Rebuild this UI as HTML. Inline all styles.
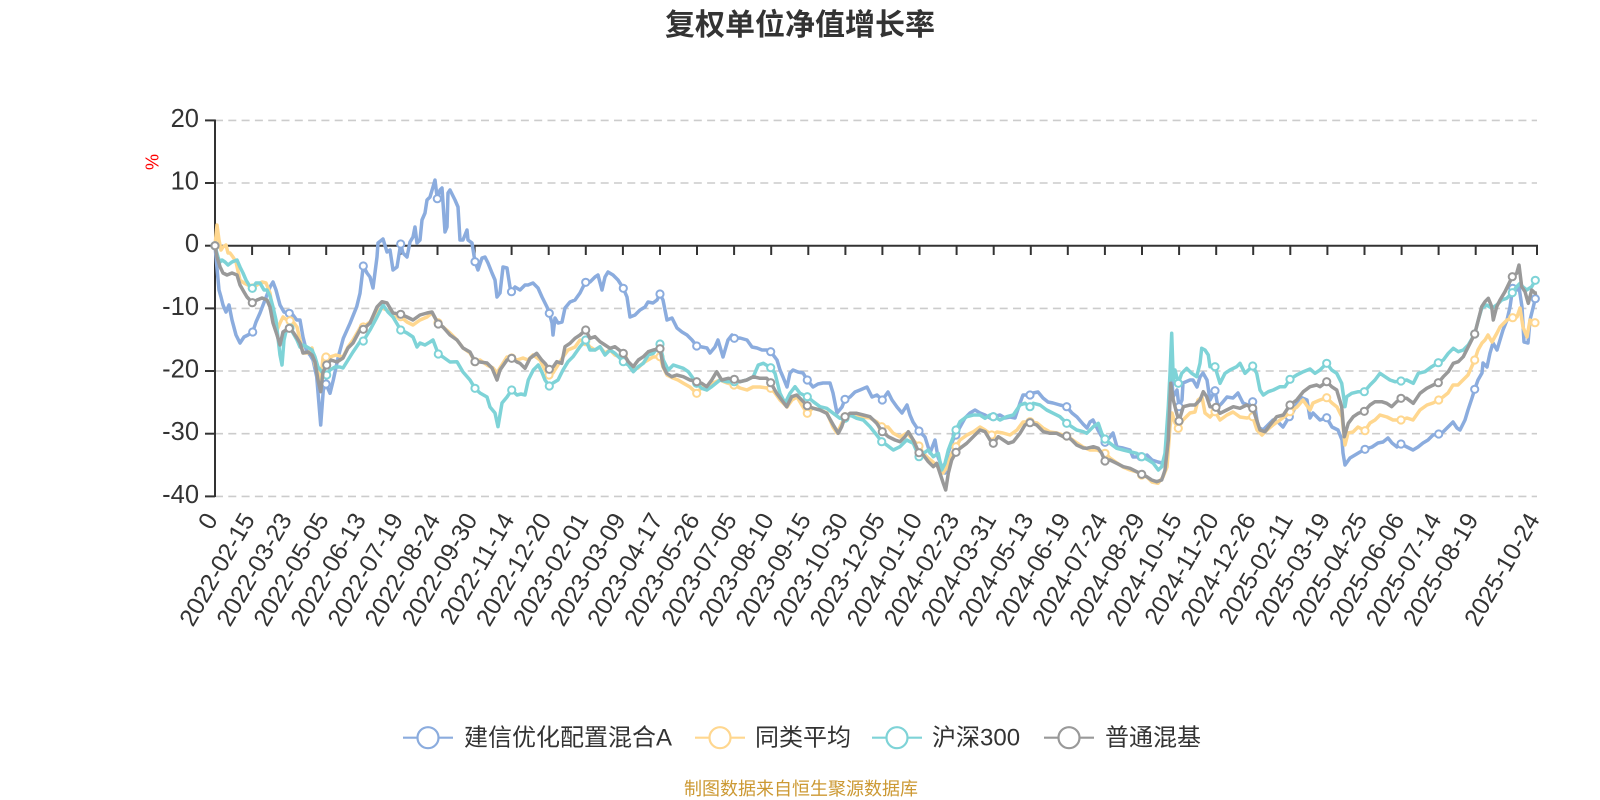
<!DOCTYPE html>
<html>
<head>
<meta charset="utf-8">
<style>
html,body{margin:0;padding:0;background:#fff;}
svg{display:block;}
text{font-family:"Liberation Sans","Noto Sans CJK SC",sans-serif;}
</style>
</head>
<body>
<svg width="1600" height="800" viewBox="0 0 1600 800" xmlns="http://www.w3.org/2000/svg">
<rect width="1600" height="800" fill="#fff"/>
<!-- title -->
<text x="800" y="35" text-anchor="middle" font-size="30" font-weight="bold" fill="#333">复权单位净值增长率</text>
<!-- % -->
<text x="152" y="162" text-anchor="middle" dy="0.35em" font-size="18" fill="#ff0000" transform="rotate(-90 152 162)">%</text>
<!-- grid lines -->
<g stroke="#cccccc" stroke-width="1.6" stroke-dasharray="8 5.3" fill="none">
<line x1="215" y1="120.4" x2="1537" y2="120.4"/>
<line x1="215" y1="183" x2="1537" y2="183"/>
<line x1="215" y1="308.4" x2="1537" y2="308.4"/>
<line x1="215" y1="371" x2="1537" y2="371"/>
<line x1="215" y1="433.7" x2="1537" y2="433.7"/>
<line x1="215" y1="496.4" x2="1537" y2="496.4"/>
</g>
<!-- y axis -->
<g stroke="#333" stroke-width="2">
<line x1="215" y1="119.5" x2="215" y2="497"/>
<line x1="205" y1="120.4" x2="215" y2="120.4"/>
<line x1="205" y1="183" x2="215" y2="183"/>
<line x1="205" y1="245.7" x2="215" y2="245.7"/>
<line x1="205" y1="308.4" x2="215" y2="308.4"/>
<line x1="205" y1="371" x2="215" y2="371"/>
<line x1="205" y1="433.7" x2="215" y2="433.7"/>
<line x1="205" y1="496.4" x2="215" y2="496.4"/>
</g>
<g font-size="25.5" fill="#333" text-anchor="end">
<text x="199" y="126.9">20</text>
<text x="199" y="189.5">10</text>
<text x="199" y="252.2">0</text>
<text x="199" y="314.9">-10</text>
<text x="199" y="377.5">-20</text>
<text x="199" y="440.2">-30</text>
<text x="199" y="502.9">-40</text>
</g>
<!-- x axis -->
<g stroke="#333" stroke-width="2">
<line x1="214" y1="245.7" x2="1538" y2="245.7"/>
<line x1="215" y1="245.7" x2="215" y2="255"/>
<line x1="252.1" y1="245.7" x2="252.1" y2="255"/>
<line x1="289.2" y1="245.7" x2="289.2" y2="255"/>
<line x1="326.2" y1="245.7" x2="326.2" y2="255"/>
<line x1="363.3" y1="245.7" x2="363.3" y2="255"/>
<line x1="400.4" y1="245.7" x2="400.4" y2="255"/>
<line x1="437.5" y1="245.7" x2="437.5" y2="255"/>
<line x1="474.6" y1="245.7" x2="474.6" y2="255"/>
<line x1="511.6" y1="245.7" x2="511.6" y2="255"/>
<line x1="548.7" y1="245.7" x2="548.7" y2="255"/>
<line x1="585.8" y1="245.7" x2="585.8" y2="255"/>
<line x1="622.9" y1="245.7" x2="622.9" y2="255"/>
<line x1="660" y1="245.7" x2="660" y2="255"/>
<line x1="697" y1="245.7" x2="697" y2="255"/>
<line x1="734.1" y1="245.7" x2="734.1" y2="255"/>
<line x1="771.2" y1="245.7" x2="771.2" y2="255"/>
<line x1="808.3" y1="245.7" x2="808.3" y2="255"/>
<line x1="845.4" y1="245.7" x2="845.4" y2="255"/>
<line x1="882.4" y1="245.7" x2="882.4" y2="255"/>
<line x1="919.5" y1="245.7" x2="919.5" y2="255"/>
<line x1="956.6" y1="245.7" x2="956.6" y2="255"/>
<line x1="993.7" y1="245.7" x2="993.7" y2="255"/>
<line x1="1030.8" y1="245.7" x2="1030.8" y2="255"/>
<line x1="1067.8" y1="245.7" x2="1067.8" y2="255"/>
<line x1="1104.9" y1="245.7" x2="1104.9" y2="255"/>
<line x1="1142" y1="245.7" x2="1142" y2="255"/>
<line x1="1179.1" y1="245.7" x2="1179.1" y2="255"/>
<line x1="1216.2" y1="245.7" x2="1216.2" y2="255"/>
<line x1="1253.2" y1="245.7" x2="1253.2" y2="255"/>
<line x1="1290.3" y1="245.7" x2="1290.3" y2="255"/>
<line x1="1327.4" y1="245.7" x2="1327.4" y2="255"/>
<line x1="1364.5" y1="245.7" x2="1364.5" y2="255"/>
<line x1="1401.6" y1="245.7" x2="1401.6" y2="255"/>
<line x1="1438.6" y1="245.7" x2="1438.6" y2="255"/>
<line x1="1475.7" y1="245.7" x2="1475.7" y2="255"/>
<line x1="1512.8" y1="245.7" x2="1512.8" y2="255"/>
<line x1="1537" y1="245.7" x2="1537" y2="255"/>
</g>
<g font-size="24.5" fill="#333" text-anchor="end">
<text x="211" y="515" dy="0.35em" transform="rotate(-60 211 515)">0</text>
<text x="248.1" y="515" dy="0.35em" transform="rotate(-60 248.1 515)">2022-02-15</text>
<text x="285.2" y="515" dy="0.35em" transform="rotate(-60 285.2 515)">2022-03-23</text>
<text x="322.2" y="515" dy="0.35em" transform="rotate(-60 322.2 515)">2022-05-05</text>
<text x="359.3" y="515" dy="0.35em" transform="rotate(-60 359.3 515)">2022-06-13</text>
<text x="396.4" y="515" dy="0.35em" transform="rotate(-60 396.4 515)">2022-07-19</text>
<text x="433.5" y="515" dy="0.35em" transform="rotate(-60 433.5 515)">2022-08-24</text>
<text x="470.6" y="515" dy="0.35em" transform="rotate(-60 470.6 515)">2022-09-30</text>
<text x="507.6" y="515" dy="0.35em" transform="rotate(-60 507.6 515)">2022-11-14</text>
<text x="544.7" y="515" dy="0.35em" transform="rotate(-60 544.7 515)">2022-12-20</text>
<text x="581.8" y="515" dy="0.35em" transform="rotate(-60 581.8 515)">2023-02-01</text>
<text x="618.9" y="515" dy="0.35em" transform="rotate(-60 618.9 515)">2023-03-09</text>
<text x="656" y="515" dy="0.35em" transform="rotate(-60 656 515)">2023-04-17</text>
<text x="693" y="515" dy="0.35em" transform="rotate(-60 693 515)">2023-05-26</text>
<text x="730.1" y="515" dy="0.35em" transform="rotate(-60 730.1 515)">2023-07-05</text>
<text x="767.2" y="515" dy="0.35em" transform="rotate(-60 767.2 515)">2023-08-10</text>
<text x="804.3" y="515" dy="0.35em" transform="rotate(-60 804.3 515)">2023-09-15</text>
<text x="841.4" y="515" dy="0.35em" transform="rotate(-60 841.4 515)">2023-10-30</text>
<text x="878.4" y="515" dy="0.35em" transform="rotate(-60 878.4 515)">2023-12-05</text>
<text x="915.5" y="515" dy="0.35em" transform="rotate(-60 915.5 515)">2024-01-10</text>
<text x="952.6" y="515" dy="0.35em" transform="rotate(-60 952.6 515)">2024-02-23</text>
<text x="989.7" y="515" dy="0.35em" transform="rotate(-60 989.7 515)">2024-03-31</text>
<text x="1026.8" y="515" dy="0.35em" transform="rotate(-60 1026.8 515)">2024-05-13</text>
<text x="1063.8" y="515" dy="0.35em" transform="rotate(-60 1063.8 515)">2024-06-19</text>
<text x="1100.9" y="515" dy="0.35em" transform="rotate(-60 1100.9 515)">2024-07-24</text>
<text x="1138" y="515" dy="0.35em" transform="rotate(-60 1138 515)">2024-08-29</text>
<text x="1175.1" y="515" dy="0.35em" transform="rotate(-60 1175.1 515)">2024-10-15</text>
<text x="1212.2" y="515" dy="0.35em" transform="rotate(-60 1212.2 515)">2024-11-20</text>
<text x="1249.2" y="515" dy="0.35em" transform="rotate(-60 1249.2 515)">2024-12-26</text>
<text x="1286.3" y="515" dy="0.35em" transform="rotate(-60 1286.3 515)">2025-02-11</text>
<text x="1323.4" y="515" dy="0.35em" transform="rotate(-60 1323.4 515)">2025-03-19</text>
<text x="1360.5" y="515" dy="0.35em" transform="rotate(-60 1360.5 515)">2025-04-25</text>
<text x="1397.6" y="515" dy="0.35em" transform="rotate(-60 1397.6 515)">2025-06-06</text>
<text x="1434.6" y="515" dy="0.35em" transform="rotate(-60 1434.6 515)">2025-07-14</text>
<text x="1471.7" y="515" dy="0.35em" transform="rotate(-60 1471.7 515)">2025-08-19</text>
<text x="1533" y="515" dy="0.35em" transform="rotate(-60 1533 515)">2025-10-24</text>
</g>

<!-- BLUE series -->
<polyline fill="none" stroke="#8BACDE" stroke-width="3.5" stroke-linejoin="round" points="215,245.7 217,268 219,290 221,297 223,305 226,312 229,305 232,320 236,335 240,343 244,337 248,335 252.7,332 256,322 260,313 265,300 270,287 273,282 276,290 280,305 284,312 289.3,313.3 293,315 296.7,320 300,320 303,337 306.7,351.7 310,355 313,360 316.7,376.7 320.7,425 323.3,390 326,384 330,393.3 333.3,380 338.3,356.7 343.3,338.3 350,323.3 356.7,306.7 360,293.3 363.3,266 367,273 370,277 373,288 377,257 378,243 383,239 387,252 390,250 393,270 397,267 400.7,244 403,253 407,257 410,242 413,237 415,227 417,243 420,240 422,220 425,213 427,200 430,197 433,187 435,180 437.3,198.7 440,190 442,188 445,232 447,227 448,193 450,190 455,200 458,207 460,240 463,240 467,230 468,240 472,243 475,261.7 478,270 482,258 485,257 488,263 492,273 495,280 497,297 500,293 503,267 507,268 510,287 511.5,291.7 515,287 520,290 525,285 528,285 533,283 538,288 542,297 547,307 549.3,313.3 552,323 553,335 555,318 558,323 562,322 565,308 570,302 575,300 580,293 583,287 585.7,282.3 590,282 595,277 598,275 602,290 605,277 608,272 613,275 618,280 623.3,288.3 627,297 630,317 635,315 640,310 645,307 648,302 653,303 657,300 660,294 663,300 667,320 672,318 677,328 682,332 687,335 692,340 696.7,346 702,347 707,348 710,353 715,347 718,340 723,357 728,340 732,335 734.3,338.3 740,338 747,340 752,347 757,348 762,350 767,350 770.7,351.7 777,360 780,370 783,377 787,387 790,373 793,370 798,372 803,373 807.3,380 813,387 818,384 823,383 830,383 833,393 837,413 842,407 845,399.3 850,397 855,392 860,390 867,387 872,397 877,395 882.3,400 888,392 892,400 897,407 902,413 907,405 910,415 913,422 919,431 925,437 930,453 935,440 938,457 942,467 945,473 948,453 953,440 956,435 960,427 965,418 970,413 975,410 980,413 985,415 990,418 993.3,416.7 1000,415 1005,418 1010,417 1015,418 1020,403 1023,395 1030,395 1033,393 1038,392 1043,398 1048,402 1053,403 1060,405 1066.7,406.7 1072,413 1077,417 1083,424 1087,428 1090,422 1093,420 1098,430 1105,442.3 1110,437 1113,433 1117,447 1123,448 1130,450 1133,457 1141,456.7 1147,455 1152,460 1158,462 1162,463 1165,458 1168,440 1170,400 1172,380 1173,397 1177,390 1179,406.7 1182,400 1183,383 1190,380 1193,380 1197,387 1200,377 1203,373 1207,380 1210,400 1215,390.7 1218,407 1222,403 1227,397 1233,398 1238,393 1243,403 1248,405 1252.7,401.7 1255,407 1258,427 1263,430 1268,425 1273,420 1278,422 1283,427 1289.3,416.7 1293,412 1300,397 1307,400 1310,418 1313,413 1320,420 1326.7,417.7 1332,427 1338,430 1342,440 1343,453 1345,465 1350,458 1355,455 1360,452 1365,449.3 1372,447 1378,443 1383,442 1388,438 1392,443 1397,447 1401,444 1407,447 1413,450 1418,447 1423,443 1428,440 1433,435 1438.7,434 1443,432 1448,427 1453,422 1457,428 1460,430 1465,420 1468,410 1472,398 1474.7,389.3 1478,380 1482,373 1483,363 1487,367 1490,353 1493,343 1497,350 1500,340 1503,330 1507,320 1510,307 1512.7,288.3 1517,290 1519,287 1522,307 1524,342 1528,343 1530,320 1533,308 1535.3,298.7 1537,298"/>
<g fill="#fff" stroke="#8BACDE" stroke-width="2">
<circle cx="215" cy="245.7" r="3.6"/><circle cx="252.7" cy="332" r="3.6"/><circle cx="289.3" cy="313.3" r="3.6"/><circle cx="326" cy="384" r="3.6"/><circle cx="363.3" cy="266" r="3.6"/><circle cx="400.7" cy="244" r="3.6"/><circle cx="437.3" cy="198.7" r="3.6"/><circle cx="475" cy="261.7" r="3.6"/><circle cx="511.5" cy="291.7" r="3.6"/><circle cx="549.3" cy="313.3" r="3.6"/><circle cx="585.7" cy="282.3" r="3.6"/><circle cx="623.3" cy="288.3" r="3.6"/><circle cx="660" cy="294" r="3.6"/><circle cx="696.7" cy="346" r="3.6"/><circle cx="734.3" cy="338.3" r="3.6"/><circle cx="770.7" cy="351.7" r="3.6"/><circle cx="807.3" cy="380" r="3.6"/><circle cx="845" cy="399.3" r="3.6"/><circle cx="882.3" cy="400" r="3.6"/><circle cx="919" cy="431" r="3.6"/><circle cx="956" cy="435" r="3.6"/><circle cx="993.3" cy="416.7" r="3.6"/><circle cx="1030" cy="395" r="3.6"/><circle cx="1066.7" cy="406.7" r="3.6"/><circle cx="1105" cy="442.3" r="3.6"/><circle cx="1141" cy="456.7" r="3.6"/><circle cx="1179" cy="406.7" r="3.6"/><circle cx="1215" cy="390.7" r="3.6"/><circle cx="1252.7" cy="401.7" r="3.6"/><circle cx="1289.3" cy="416.7" r="3.6"/><circle cx="1326.7" cy="417.7" r="3.6"/><circle cx="1365" cy="449.3" r="3.6"/><circle cx="1401" cy="444" r="3.6"/><circle cx="1438.7" cy="434" r="3.6"/><circle cx="1474.7" cy="389.3" r="3.6"/><circle cx="1512.7" cy="288.3" r="3.6"/><circle cx="1535.3" cy="298.7" r="3.6"/>
</g>

<!-- YELLOW series -->
<polyline fill="none" stroke="#FFD78F" stroke-width="3.5" stroke-linejoin="round" points="215,245.7 217,225 219,240 221,250 223,247 226,245 228,253 230,253 233,257 236,262 240,280 244,283 248,285 252,288 257,285 262,282 266,283 270,293 273,313 277,330 280,323 283,317 287,320 290,320.7 294,323 297,327 300,340 303,353 308,353 312,348 315,365 318,373 321,380 323,357 326,357 330,357 336,355 343,357 348,347 353,340 360,328 363.3,327 370,322 377,312 382,308 387,310 393,317 400.7,316.7 407,322 413,325 420,320 427,317 432,313 438,322.7 443,327 450,333 457,340 463,348 470,353 475,361.7 480,360 487,365 493,368 497,373 500,368 507,357 511.7,358 517,360 523,358 528,360 533,355 540,360 545,370 548,375 553,373 558,365 563,357 568,350 575,347 580,340 585.7,341.7 590,347 595,350 600,347 605,353 610,350 615,355 620,357 623.3,355 628,362 633,368 638,368 643,363 648,360 653,357 660,356.7 663,367 667,375 673,378 678,380 683,383 690,387 696.7,393.3 702,387 707,390 713,383 720,380 727,383 734,385 740,388 747,390 753,387 760,387 767,388 770.7,388.3 775,393 780,400 787,407 792,400 797,397 803,407 807.3,413.3 813,408 820,410 827,413 833,427 837,433 840,427 845,416.7 850,415 857,415 863,417 870,418 877,422 881.7,426.7 888,427 893,433 900,437 907,433 913,440 919,446 923,453 928,458 933,462 938,467 943,473 947,467 952,453 956,446.7 960,440 967,435 973,432 980,427 985,430 991.7,435 997,432 1003,433 1010,435 1017,430 1023,422 1030,421.7 1037,423 1043,428 1050,432 1057,433 1063,435 1070,438 1077,443 1083,447 1090,450 1097,450 1105,453.3 1110,458 1117,463 1123,467 1130,470 1137,472 1141.7,475 1147,477 1152,482 1158,483.3 1163,477 1167,467 1170,427 1172,413 1175,423 1178.3,428.3 1183,420 1190,413 1195,412 1198,400 1202,397 1205,413 1210,417 1215,411.7 1220,420 1227,415 1233,412 1240,417 1247,418 1252.7,416.7 1257,430 1262,435 1267,430 1273,425 1280,420 1287,415 1290,411.7 1297,407 1303,400 1310,410 1313,403 1320,400 1326.7,397.7 1332,403 1337,407 1342,417 1345,445 1348,433 1353,432 1358,427 1365,430.7 1370,423 1375,420 1380,415 1387,417 1393,420 1401,420 1407,418 1413,420 1420,410 1427,405 1433,403 1438.7,400 1443,397 1448,393 1453,385 1458,385 1463,380 1468,375 1474.7,360 1478,350 1482,343 1485,340 1488,335 1492,342 1497,333 1500,327 1507,320 1512.7,317.7 1517,317 1520,308 1523,327 1527,337 1530,320 1535,322.7 1537,322"/>
<g fill="#fff" stroke="#FFD78F" stroke-width="2">
<circle cx="215" cy="245.7" r="3.6"/><circle cx="252.3" cy="288" r="3.6"/><circle cx="290" cy="320.7" r="3.6"/><circle cx="326" cy="357" r="3.6"/><circle cx="363.3" cy="327" r="3.6"/><circle cx="400.7" cy="316.7" r="3.6"/><circle cx="438" cy="322.7" r="3.6"/><circle cx="475" cy="361.7" r="3.6"/><circle cx="511.7" cy="358" r="3.6"/><circle cx="549" cy="375" r="3.6"/><circle cx="585.7" cy="341.7" r="3.6"/><circle cx="623.3" cy="355" r="3.6"/><circle cx="660" cy="356.7" r="3.6"/><circle cx="696.7" cy="393.3" r="3.6"/><circle cx="734" cy="385" r="3.6"/><circle cx="770.7" cy="388.3" r="3.6"/><circle cx="807.3" cy="413.3" r="3.6"/><circle cx="845" cy="416.7" r="3.6"/><circle cx="881.7" cy="426.7" r="3.6"/><circle cx="919" cy="446" r="3.6"/><circle cx="956" cy="446.7" r="3.6"/><circle cx="991.7" cy="435" r="3.6"/><circle cx="1030" cy="421.7" r="3.6"/><circle cx="1066.7" cy="436" r="3.6"/><circle cx="1105" cy="453.3" r="3.6"/><circle cx="1141.7" cy="475" r="3.6"/><circle cx="1178.3" cy="428.3" r="3.6"/><circle cx="1215" cy="411.7" r="3.6"/><circle cx="1252.7" cy="416.7" r="3.6"/><circle cx="1290" cy="411.7" r="3.6"/><circle cx="1326.7" cy="397.7" r="3.6"/><circle cx="1365" cy="430.7" r="3.6"/><circle cx="1401" cy="420" r="3.6"/><circle cx="1438.7" cy="400" r="3.6"/><circle cx="1474.7" cy="360" r="3.6"/><circle cx="1512.7" cy="317.7" r="3.6"/><circle cx="1535" cy="322.7" r="3.6"/>
</g>

<!-- CYAN series -->
<polyline fill="none" stroke="#7ED3D7" stroke-width="3.5" stroke-linejoin="round" points="215,245.7 216,250 218,257 220,262 222,260 225,262 228,265 232,262 237,260 240,267 243,273 246,280 249,285 252.3,288.3 256,283 260,283 264,290 267,290 270,296 273,307 276,320 278,338 280,355 282,365 284,340 287,327 290,328 293,333 297,340 300,347 303,345 307,347 312,350 315,357 318,367 322,372 326.7,375 330,370 335,367 340,367 343,368 348,360 353,352 360,341.7 363.3,341 370,330 377,317 383,305 388,312 393,317 400.7,330 407,333 413,337 417,347 420,343 425,345 430,342 433,340 438.3,354 443,357 450,362 457,361.7 463,372 470,380 475,388.3 480,393 487,397 490,407 495,413 498,426.7 502,403 507,397 511.7,390 517,395 521,394 525,395 528.3,380 533.3,370 538.3,365 541.7,371.7 545,380 549.3,386 553,383 558,380 563,370 568,361.7 573,356.7 580,346.7 585.7,340 590,350 595,350 600,346.7 605,355 610,350 615,353.3 623.3,361.7 628.3,365 633.3,371.7 638.3,366.7 643.3,363.3 648.3,355 653.3,353.3 660,344 663.3,360 668.3,370 673.3,365 678.3,366.7 683.3,368.3 688.3,371.7 696.7,383.3 701.7,388.3 706.7,390 711.7,386.7 720,380 726.7,381.7 734.3,381.7 740,381.7 746.7,380 753.3,376.7 758.3,365 763.3,363.3 770.7,367.7 775,373.3 780,393.3 785,403.3 790,393.3 795,386.7 800,393.3 807.3,396.7 813.3,401.7 820,406.7 826.7,408.3 833.3,413.3 840,418.3 845,418.3 850,415 856.7,418.3 863.3,420 870,426.7 876.7,435 881.7,441.7 886.7,445 893.3,450 900,446.7 906.7,440 913.3,443.3 919,456.7 923.3,453.3 928.3,450 933.3,456.7 938.3,453.3 941.7,470 945,463.3 948.3,450 953.3,436.7 956,430 960,421.7 966.7,416.7 973.3,415 980,415 985,418.3 990,415 995,416.7 1000,420 1006.7,416.7 1013.3,415 1020,405 1025,403.3 1030,406.7 1033.3,403.3 1040,405 1046.7,410 1053.3,413.3 1060,416.7 1066.7,423.3 1071.7,426.7 1076.7,430 1083.3,431.7 1086.7,433.3 1093.3,426.7 1098.3,423.3 1101.7,433.3 1105,439 1110,443.3 1116.7,448.3 1123.3,450 1130,451.7 1136.7,453.3 1141.7,456.7 1148.3,460 1153.3,463.3 1158.3,470 1161.7,466.7 1165,453.3 1168.3,406.7 1170,373.3 1171.7,333.3 1173.3,380 1175,370 1178.3,383.3 1181.7,373.3 1186.7,368.3 1191.7,373.3 1196.7,376.7 1200,363.3 1201.7,348.3 1205,350 1208.3,355 1210,366.7 1215,366.7 1220,383.3 1225,373.3 1230,370 1236.7,366.7 1240,363.3 1245,373.3 1252.7,366 1256.7,373.3 1260,390 1263.3,395 1268.3,391.7 1273.3,390 1280,386.7 1285,386.7 1290,379.3 1296.7,375 1303.3,371.7 1310,369 1315,373.3 1320,370 1326.7,363.3 1331.7,370 1336.7,373.3 1341.7,383.3 1345,406.7 1346.7,396.7 1351.7,393.3 1358.3,391.7 1364.3,391.7 1370,385 1375,380 1380,373.3 1385,376.7 1390,380 1395,381.7 1401,381 1406.7,380 1413.3,383.3 1418.3,373.3 1425,371.7 1431.7,366.7 1438.3,362.7 1443.3,360 1448.3,353.3 1453.3,348.3 1458.3,351.7 1463.3,350 1468.3,345 1474.7,334 1478.3,320 1481.7,308.3 1486.7,305 1491.7,308.3 1496.7,305 1501.7,300 1506.7,298.3 1512.3,292.7 1516.7,286.7 1520,283.3 1522.7,286.7 1526.7,290 1531.7,286.7 1535.3,280.3 1537,280"/>
<g fill="#fff" stroke="#7ED3D7" stroke-width="2">
<circle cx="215" cy="245.7" r="3.6"/><circle cx="252.3" cy="288.3" r="3.6"/><circle cx="290" cy="328" r="3.6"/><circle cx="326.7" cy="375" r="3.6"/><circle cx="363.3" cy="341" r="3.6"/><circle cx="400.7" cy="330" r="3.6"/><circle cx="438.3" cy="354" r="3.6"/><circle cx="475" cy="388.3" r="3.6"/><circle cx="511.7" cy="390" r="3.6"/><circle cx="549.3" cy="386" r="3.6"/><circle cx="585.7" cy="340" r="3.6"/><circle cx="623.3" cy="361.7" r="3.6"/><circle cx="660" cy="344" r="3.6"/><circle cx="696.7" cy="383.3" r="3.6"/><circle cx="734.3" cy="381.7" r="3.6"/><circle cx="770.7" cy="367.7" r="3.6"/><circle cx="807.3" cy="396.7" r="3.6"/><circle cx="845" cy="418.3" r="3.6"/><circle cx="881.7" cy="441.7" r="3.6"/><circle cx="919" cy="456.7" r="3.6"/><circle cx="956" cy="430" r="3.6"/><circle cx="993.3" cy="416.7" r="3.6"/><circle cx="1030" cy="406.7" r="3.6"/><circle cx="1066.7" cy="423.3" r="3.6"/><circle cx="1105" cy="439" r="3.6"/><circle cx="1141.7" cy="456.7" r="3.6"/><circle cx="1178.3" cy="383.3" r="3.6"/><circle cx="1215" cy="366.7" r="3.6"/><circle cx="1252.7" cy="366" r="3.6"/><circle cx="1290" cy="379.3" r="3.6"/><circle cx="1326.7" cy="363.3" r="3.6"/><circle cx="1364.3" cy="391.7" r="3.6"/><circle cx="1401" cy="381" r="3.6"/><circle cx="1438.3" cy="362.7" r="3.6"/><circle cx="1474.7" cy="334" r="3.6"/><circle cx="1512.3" cy="292.7" r="3.6"/><circle cx="1535.3" cy="280.3" r="3.6"/>
</g>

<!-- GRAY series -->
<polyline fill="none" stroke="#999999" stroke-width="3.5" stroke-linejoin="round" points="215,245.7 217,257 220,266.7 223,273 227,275 232,273 237,275 240,285 244,292 247,297 252.3,302.7 257,300 262,298 267,300 270,307 273,323 277,335 280,345 283,332 286,330 289.3,328.3 293,332 297,338 300,343 303,353 308,352 312,355 315,362 318,380 320.7,391.7 323,372 326.7,365 331,360 337,362 343,358 348,348 353,343 360,330 363.3,329.3 370,323 377,307 382,301.7 387,303 393,313 400.7,314.3 407,317 413,320 420,315 427,313 432,312 438.3,324 443,327 450,335 457,340 463,348 470,352 475,361.7 480,362 487,363 492,368 497,380 500,370 507,360 511.7,358.3 517,362 520,363.3 525,368.3 530,358.3 536.7,353.3 541.7,360 545,363.3 549.3,369.3 553.3,366.7 556.7,361.7 561.7,363.3 565,346.7 570,343.3 575,338.3 580,335 585.7,330 590,338.3 595,336.7 600,341.7 605,345 610,348.3 615,346.7 623.3,353.3 628.3,361.7 633.3,366.7 638.3,360 643.3,356.7 648.3,351.7 653.3,350 660,348.7 663.3,366.7 666.7,373.3 671.7,376.7 676.7,375 683.3,376.7 690,380 696.7,381.7 701.7,383.3 706.7,386.7 711.7,380 716.7,371.7 721.7,380 728.3,378.3 734.3,379.3 740,381.7 746.7,380 753.3,376.7 760,378.3 766.7,378.3 770.7,382.7 776.7,393.3 781.7,400 786.7,406.7 791.7,396.7 796.7,395 801.7,400 807.3,405.7 813.3,408.3 820,410 826.7,413.3 833.3,425 838.3,433.3 841.7,426.7 845,416.7 850,413.3 856.7,413.3 863.3,415 870,416.7 876.7,423.3 882.3,431.7 888.3,436.7 895,440 900,441.7 905,436.7 908.3,431.7 913.3,440 919,452.7 923.3,455 928.3,461.7 933.3,466.7 936.7,463.3 940,473.3 943.3,483.3 945.7,490 948.3,473.3 951.7,460 956,452.3 960,448.3 966.7,443.3 973.3,436.7 980,430 985,431.7 990,440 993.3,443.3 998.3,436.7 1003.3,440 1008.3,443.3 1013.3,441.7 1020,433.3 1025,425 1030,422.7 1036.7,425 1043.3,431.7 1050,433.3 1056.7,433.3 1063.3,436.7 1066.7,436 1071.7,440 1076.7,445 1083.3,448 1086.7,448.3 1093.3,446.7 1098.3,448.3 1101.7,453.3 1105,461 1110,460 1116.7,463.3 1123.3,466.7 1130,468.3 1136.7,471.7 1141.7,474.3 1146.7,476.7 1151.7,480 1156.7,481.7 1161.7,480 1165,470 1168.3,440 1170.7,383.3 1173.3,400 1176.7,413.3 1179,421 1183.3,406.7 1190,405 1195,405 1200,400 1203.3,391.7 1206.7,396.7 1210,406.7 1216,407.3 1220,413.3 1226.7,410 1233.3,406.7 1240,408.3 1246.7,405 1252.7,408.3 1256.7,420 1260,430 1265,431.7 1270,425 1276.7,416.7 1283.3,415 1290,405 1296.7,400 1303.3,391.7 1310,386.7 1316.7,385 1320,386.7 1326.7,381.7 1331.7,386.7 1336.7,390 1341.7,406.7 1344.3,436.7 1348.3,423.3 1353.3,416.7 1358.3,413.3 1364.3,411.3 1370,405 1375,401.7 1381.7,401.7 1386.7,403.3 1391.7,406.7 1396.7,401.7 1401,398.3 1406.7,398.3 1413.3,403.3 1420,393.3 1426.7,388.3 1433.3,385 1438.3,382.7 1443.3,376.7 1448.3,371.7 1453.3,363.3 1458.3,361.7 1463.3,356.7 1468.3,346.7 1474.7,334 1478.3,320 1481.7,306.7 1485,301.7 1488.3,298.3 1491.7,306.7 1493.3,320 1496.7,306.7 1500,300 1505,291.7 1512.3,276.7 1516.7,273.3 1519,265 1521.7,286.7 1525,291.7 1528.3,303.3 1531.7,290 1535.3,293.3 1537,293"/>
<g fill="#fff" stroke="#999999" stroke-width="2">
<circle cx="215" cy="245.7" r="3.6"/><circle cx="252.3" cy="302.7" r="3.6"/><circle cx="289.3" cy="328.3" r="3.6"/><circle cx="326.7" cy="365" r="3.6"/><circle cx="363.3" cy="329.3" r="3.6"/><circle cx="400.7" cy="314.3" r="3.6"/><circle cx="438.3" cy="324" r="3.6"/><circle cx="475" cy="361.7" r="3.6"/><circle cx="511.7" cy="358.3" r="3.6"/><circle cx="549.3" cy="369.3" r="3.6"/><circle cx="585.7" cy="330" r="3.6"/><circle cx="623.3" cy="353.3" r="3.6"/><circle cx="660" cy="348.7" r="3.6"/><circle cx="696.7" cy="381.7" r="3.6"/><circle cx="734.3" cy="379.3" r="3.6"/><circle cx="770.7" cy="382.7" r="3.6"/><circle cx="807.3" cy="405.7" r="3.6"/><circle cx="845" cy="416.7" r="3.6"/><circle cx="882.3" cy="431.7" r="3.6"/><circle cx="919" cy="452.7" r="3.6"/><circle cx="956" cy="452.3" r="3.6"/><circle cx="993.3" cy="443.3" r="3.6"/><circle cx="1030" cy="422.7" r="3.6"/><circle cx="1066.7" cy="436" r="3.6"/><circle cx="1105" cy="461" r="3.6"/><circle cx="1141.7" cy="474.3" r="3.6"/><circle cx="1179" cy="421" r="3.6"/><circle cx="1216" cy="407.3" r="3.6"/><circle cx="1252.7" cy="408.3" r="3.6"/><circle cx="1290" cy="405" r="3.6"/><circle cx="1326.7" cy="381.7" r="3.6"/><circle cx="1364.3" cy="411.3" r="3.6"/><circle cx="1401" cy="398.3" r="3.6"/><circle cx="1438.3" cy="382.7" r="3.6"/><circle cx="1474.7" cy="334" r="3.6"/><circle cx="1512.3" cy="276.7" r="3.6"/>
</g>

<!-- legend -->
<g stroke-width="2.2" fill="#fff">
<line x1="403" y1="737.7" x2="453" y2="737.7" stroke="#8BACDE"/>
<circle cx="428" cy="737.7" r="10.5" stroke="#8BACDE"/>
<line x1="695" y1="737.7" x2="745" y2="737.7" stroke="#FFD78F"/>
<circle cx="720" cy="737.7" r="10.5" stroke="#FFD78F"/>
<line x1="872" y1="737.7" x2="922" y2="737.7" stroke="#7ED3D7"/>
<circle cx="897" cy="737.7" r="10.5" stroke="#7ED3D7"/>
<line x1="1044" y1="737.7" x2="1094" y2="737.7" stroke="#999999"/>
<circle cx="1069" cy="737.7" r="10.5" stroke="#999999"/>
</g>
<g font-size="24" fill="#333">
<text x="464" y="745.5">建信优化配置混合A</text>
<text x="755" y="745.5">同类平均</text>
<text x="932" y="745.5">沪深300</text>
<text x="1105" y="745.5">普通混基</text>
</g>
<!-- footer -->
<text x="801" y="795" text-anchor="middle" font-size="18" fill="#CC9933">制图数据来自恒生聚源数据库</text>
</svg>
</body>
</html>
